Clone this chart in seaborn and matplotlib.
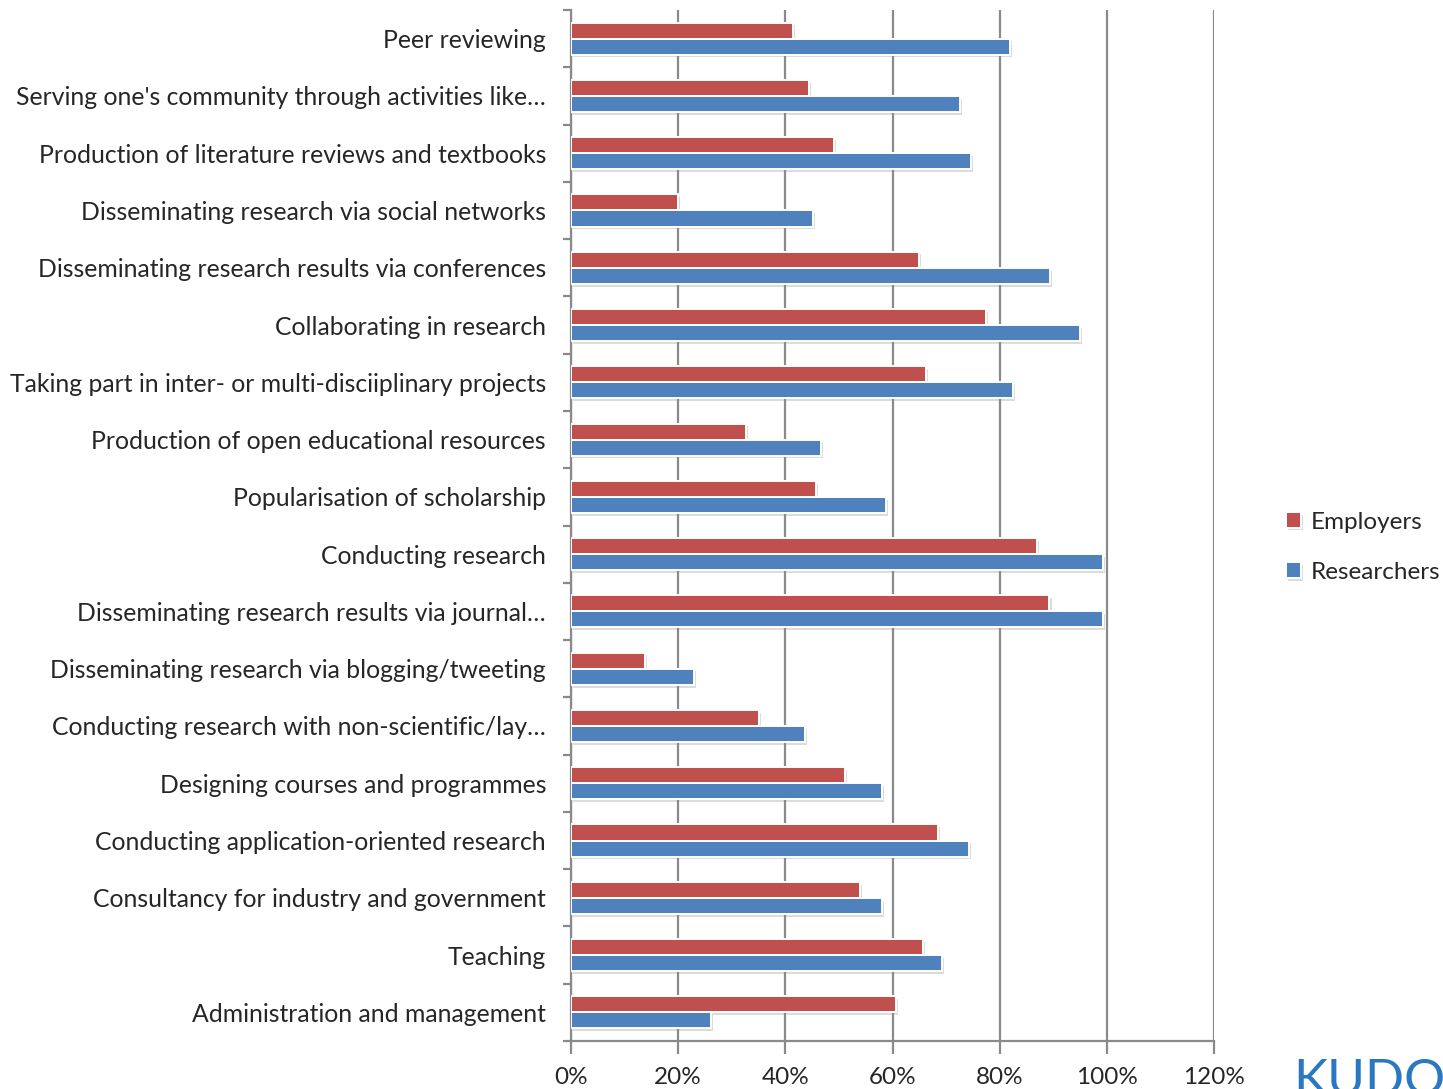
import matplotlib
matplotlib.use("Agg")
import matplotlib.pyplot as plt
import matplotlib.patheffects as pe
from matplotlib.ticker import FixedLocator, PercentFormatter
import numpy as np
import pandas as pd
import seaborn as sns

activities = [
    "Peer reviewing",
    "Serving one's community through activities like…",
    "Production of literature reviews and textbooks",
    "Disseminating research via social networks",
    "Disseminating research results via conferences",
    "Collaborating in research",
    "Taking part in inter- or multi-disciiplinary projects",
    "Production of open educational resources",
    "Popularisation of scholarship",
    "Conducting research",
    "Disseminating research results via journal…",
    "Disseminating research via blogging/tweeting",
    "Conducting research with non-scientific/lay…",
    "Designing courses and programmes",
    "Conducting application-oriented research",
    "Consultancy for industry and government",
    "Teaching",
    "Administration and management",
]
employers = [41.5, 44.4, 49.1, 20.0, 65.0, 77.5, 66.3, 32.7, 45.8, 87.0,
             89.3, 13.8, 35.1, 51.2, 68.5, 54.0, 65.7, 60.7]
researchers = [82.0, 72.6, 74.7, 45.2, 89.4, 95.0, 82.4, 46.7, 58.8, 99.2,
               99.2, 23.0, 43.7, 58.1, 74.3, 58.1, 69.3, 26.1]
groups = ["Employers", "Researchers"]
x_ticks = [0, 20, 40, 60, 80, 100, 120]

df = pd.DataFrame({
    "activity": activities * 2,
    "group": [groups[0]] * len(activities) + [groups[1]] * len(activities),
    "value": employers + researchers,
})

sns.set_style("white")
plt.rcParams["font.family"] = ["Lato", "DejaVu Sans"]

fig = plt.figure(figsize=(14.43, 10.89), dpi=100)
ax = fig.add_axes([571 / 1443, 48 / 1089, (1214 - 571) / 1443, (1079 - 48) / 1089])

palette = {"Employers": "#C0504D", "Researchers": "#4F81BD"}
sns.barplot(data=df, y="activity", x="value", hue="group", order=activities,
            hue_order=groups, palette=palette, orient="h", width=0.56,
            saturation=1, ax=ax, legend=True, zorder=3)

for bar in ax.patches:
    bar.set_edgecolor("white")
    bar.set_linewidth(1.4)
    bar.set_path_effects([
        pe.SimplePatchShadow(offset=(1.5, -2.0), shadow_rgbFace="#8c8c8c", alpha=0.3),
        pe.Normal(),
    ])

ax.set_xlim(0, 120)
ax.set_ylim(len(activities) - 0.5, -0.5)
ax.xaxis.set_major_locator(FixedLocator(x_ticks))
ax.xaxis.set_major_formatter(PercentFormatter(decimals=0))
ax.grid(axis="x", color="#8a8a8a", linewidth=1.6, zorder=0)
ax.set_axisbelow(True)
ax.set_xlabel("")
ax.set_ylabel("")

for side in ("top", "right"):
    ax.spines[side].set_visible(False)
for side in ("left", "bottom"):
    ax.spines[side].set_color("#8a8a8a")
    ax.spines[side].set_linewidth(1.6)

ax.tick_params(axis="x", direction="out", length=9, width=1.6, color="#8a8a8a",
               labelsize=17.5, pad=10, bottom=True)
ax.tick_params(axis="y", which="major", length=0, labelsize=17.8, pad=18)
ax.yaxis.set_minor_locator(FixedLocator(np.arange(-0.5, len(activities), 1.0)))
ax.tick_params(axis="y", which="minor", direction="out", length=6, width=1.6,
               color="#8a8a8a", left=True)

leg = ax.legend(loc="center left", bbox_to_anchor=(1.097, 0.479), frameon=False,
                fontsize=17.5, handlelength=0.6, handleheight=0.6,
                handletextpad=0.4, labelspacing=1.2, borderaxespad=0)

fig.text(1293 / 1443, -0.014, "KUDOS", color="#2B78C2", fontsize=37,
         ha="left", va="bottom", family="Lato")

fig.savefig("out.png", dpi=100)
